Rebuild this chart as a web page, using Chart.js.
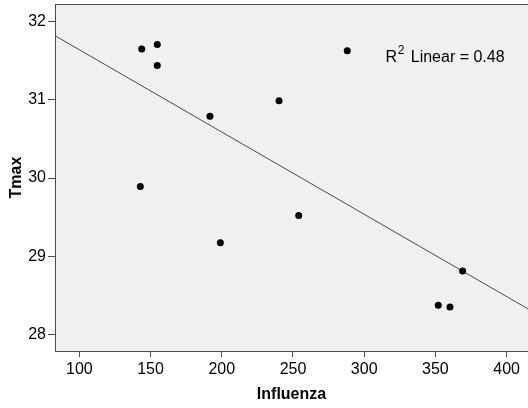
<!DOCTYPE html>
<html>
<head>
<meta charset="utf-8">
<script src="https://cdn.jsdelivr.net/npm/chart.js@4/dist/chart.umd.min.js"></script>
<style>
  html, body { margin: 0; padding: 0; background: #fff; }
  #wrap { width: 528px; height: 408px; }
</style>
</head>
<body>
<div id="wrap"><canvas id="chart" width="528" height="408"></canvas></div>
<script>
// Influenza (x) vs Tmax (y)
var influenza = [143.8, 154.7, 154.7, 142.8, 191.7, 199.0, 240.2, 254.0, 288.1, 352.0, 360.2, 369.1];
var tmax      = [31.65, 31.71, 31.44, 29.89, 30.79, 29.17, 30.99, 29.52, 31.63, 28.37, 28.35, 28.81];

var xTicks = [100, 150, 200, 250, 300, 350, 400];
var yTicks = [28, 29, 30, 31, 32];
var xRange = [82.9, 415];
var yRange = [27.786, 32.227];

var fitLabel = "Linear = 0.48";
var labelAt = {x: 315, y: 31.49};

// least squares fit, drawn across the whole x range
function linFit(xs, ys) {
    var n = xs.length, mx = 0, my = 0;
    for (var i = 0; i < n; i++) { mx += xs[i]; my += ys[i]; }
    mx /= n; my /= n;
    var sxy = 0, sxx = 0;
    for (var i = 0; i < n; i++) {
        sxy += (xs[i] - mx) * (ys[i] - my);
        sxx += (xs[i] - mx) * (xs[i] - mx);
    }
    var b = sxy / sxx;
    return {a: my - b * mx, b: b};
}
var fit = linFit(influenza, tmax);
var fitPoints = xRange.map(function(x) { return {x: x, y: fit.a + fit.b * x}; });

var points = influenza.map(function(x, i) { return {x: x, y: tmax[i]}; });

var axisColor = "#4d4d4d";
var tickFont = {family: "'Liberation Sans', Arial, sans-serif", size: 16};
var titleFont = {family: "'Liberation Sans', Arial, sans-serif", size: 16, weight: "bold"};

var framePlugin = {
    id: "frame",
    beforeDraw: function(c) {
        var a = c.chartArea, ctx = c.ctx;
        ctx.save();
        ctx.fillStyle = "#f0f0f0";
        ctx.fillRect(a.left, a.top, a.right - a.left, a.bottom - a.top);
        ctx.restore();
    },
    afterDraw: function(c) {
        var a = c.chartArea, ctx = c.ctx;
        ctx.save();
        ctx.strokeStyle = axisColor;
        ctx.lineWidth = 1;
        ctx.beginPath();
        ctx.moveTo(a.left, a.top + 0.5);
        ctx.lineTo(a.right, a.top + 0.5);
        ctx.stroke();

        // R² label
        var x = c.scales.x.getPixelForValue(labelAt.x);
        var y = c.scales.y.getPixelForValue(labelAt.y);
        ctx.fillStyle = "#000";
        ctx.textBaseline = "alphabetic";
        ctx.textAlign = "left";
        ctx.font = "16px 'Liberation Sans', Arial, sans-serif";
        ctx.fillText("R", x, y);
        var w = ctx.measureText("R").width;
        ctx.font = "12px 'Liberation Sans', Arial, sans-serif";
        ctx.fillText("2", x + w + 0.5, y - 8);
        var w2 = ctx.measureText("2").width;
        ctx.font = "16px 'Liberation Sans', Arial, sans-serif";
        ctx.fillText(" " + fitLabel, x + w + w2 + 2.5, y);
        ctx.restore();
    }
};

function fixTicks(list) {
    return function(scale) {
        scale.ticks = list.map(function(v) { return {value: v}; });
    };
}

new Chart(document.getElementById("chart"), {
    type: "scatter",
    data: {
        datasets: [
            {
                label: "Tmax",
                data: points,
                backgroundColor: "#000",
                borderColor: "#000",
                pointRadius: 3.5,
                pointBorderWidth: 0,
                pointHoverRadius: 3.5
            },
            {
                type: "line",
                label: "Fit",
                data: fitPoints,
                borderColor: "#4a4a4a",
                borderWidth: 1,
                pointRadius: 0,
                fill: false
            }
        ]
    },
    options: {
        responsive: false,
        animation: false,
        layout: {autoPadding: false, padding: {top: 4, left: 0, right: 0, bottom: 0}},
        plugins: {legend: {display: false}, tooltip: {enabled: false}},
        scales: {
            x: {
                type: "linear",
                min: xRange[0],
                max: xRange[1],
                afterBuildTicks: fixTicks(xTicks),
                afterFit: function(s) { s.height = 57; s.paddingLeft = 0; s.paddingRight = 0; },
                border: {display: true, color: axisColor, width: 1},
                grid: {display: true, drawOnChartArea: false, drawTicks: true, tickLength: 6, color: axisColor},
                ticks: {color: "#000", font: tickFont, padding: 3, maxRotation: 0},
                title: {display: true, text: "Influenza", color: "#000", font: titleFont, padding: {top: 0, bottom: 4}}
            },
            y: {
                type: "linear",
                min: yRange[0],
                max: yRange[1],
                afterBuildTicks: fixTicks(yTicks),
                afterFit: function(s) { s.width = 55; s.paddingTop = 0; s.paddingBottom = 0; },
                border: {display: true, color: axisColor, width: 1},
                grid: {display: true, drawOnChartArea: false, drawTicks: true, tickLength: 7, color: axisColor},
                ticks: {color: "#000", font: tickFont, padding: 2},
                title: {display: true, text: "Tmax", color: "#000", font: titleFont, padding: {top: 7, bottom: 0}}
            }
        }
    },
    plugins: [framePlugin]
});
</script>
</body>
</html>
